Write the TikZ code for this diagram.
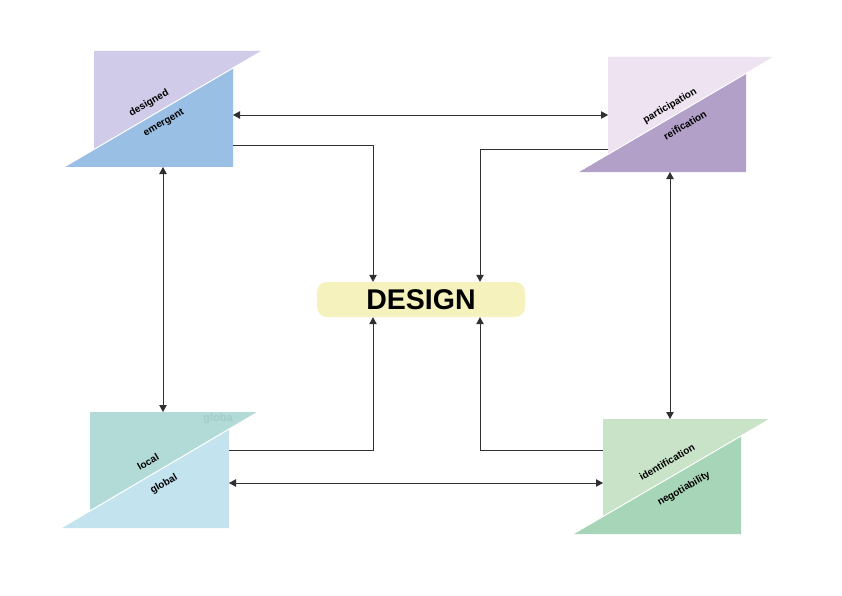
\documentclass[tikz,border=0pt]{standalone}
\usepackage{fontspec}
\setmainfont{Liberation Sans}
\usetikzlibrary{arrows.meta}
\definecolor{tlUp}{HTML}{CFCBE8}
\definecolor{tlLo}{HTML}{9ABFE4}
\definecolor{trUp}{HTML}{EDE3F1}
\definecolor{trLo}{HTML}{B2A0C8}
\definecolor{blUp}{HTML}{B2DAD6}
\definecolor{blLo}{HTML}{C3E3EE}
\definecolor{brUp}{HTML}{C9E3C8}
\definecolor{brLo}{HTML}{A7D5B8}
\definecolor{designFill}{HTML}{F5F2BE}
\definecolor{faint}{HTML}{A2CBC9}
\definecolor{lineCol}{HTML}{303030}
\tikzset{
  lbl/.style={font=\fontsize{10}{11}\selectfont\bfseries, rotate=30, inner sep=0pt},
  conn/.style={draw=lineCol, line width=0.8pt, -{Triangle[length=7pt,width=7.5pt]}},
  dbl/.style={draw=lineCol, line width=0.8pt, {Triangle[length=7pt,width=7.5pt]}-{Triangle[length=7pt,width=7.5pt]}},
  centre/.style={fill=designFill, rounded corners=10pt, minimum width=208pt, minimum height=35pt, inner sep=0pt, font=\fontsize{28.5}{30}\selectfont\bfseries}
}
\begin{document}
\begin{tikzpicture}[x=1pt,y=-1pt]
\fill[white] (0,0) rectangle (842,596);
\useasboundingbox (0,0) rectangle (842,596);
% top-left
\fill[tlUp] (94,51) -- (262,51) -- (94,149.4) -- cycle;
\fill[tlLo] (64,167) -- (233,167) -- (233,68) -- cycle;
\draw[white, line width=1pt] (64,167) -- (262,51);
\node[lbl] (designed) at (149,103) {designed};
\node[lbl] (emergent) at (164,123) {emergent};
% top-right
\fill[trUp] (608,57) -- (774,57) -- (608,154.5) -- cycle;
\fill[trLo] (578,172) -- (746,172) -- (746,73.5) -- cycle;
\draw[white, line width=1pt] (578,172) -- (774,57);
\node[lbl] (participation) at (670,106) {participation};
\node[lbl] (reification) at (685,125) {reification};
% bottom-left
\fill[blUp] (90,412) -- (258,412) -- (90,510.5) -- cycle;
\fill[blLo] (61,528) -- (229,528) -- (229,429.5) -- cycle;
\draw[white, line width=1pt] (61,528) -- (258,412);
\node[font=\fontsize{11}{12}\selectfont\bfseries, text=faint, inner sep=0pt] (globa) at (218,419) {globa};
\node[lbl] (local) at (148,462) {local};
\node[lbl] (global) at (164,484) {global};
% bottom-right
\fill[brUp] (603,419) -- (770,419) -- (603,516.5) -- cycle;
\fill[brLo] (573,534) -- (741,534) -- (741,436) -- cycle;
\draw[white, line width=1pt] (573,534) -- (770,419);
\node[lbl] (identification) at (667,462) {identification};
\node[lbl] (negotiability) at (684,489) {negotiability};
% centre
\node[centre] (design) at (421,299.5) {DESIGN};
% attachment points
\coordinate (tlR1) at (233,115);
\coordinate (tlR2) at (233,145.7);
\coordinate (tlB) at (163,167);
\coordinate (trL1) at (608,115);
\coordinate (trL2) at (608,149);
\coordinate (trB) at (670,172);
\coordinate (blT) at (163,412);
\coordinate (blR1) at (229,450.7);
\coordinate (blR2) at (229,483);
\coordinate (brT) at (670,419);
\coordinate (brL1) at (603,450.7);
\coordinate (brL2) at (603,483);
% connectors
\draw[dbl] (tlR1) -- (trL1);
\draw[dbl] (blR2) -- (brL2);
\draw[dbl] (tlB) -- (blT);
\draw[dbl] (trB) -- (brT);
\draw[conn] (tlR2) -| ([xshift=-48pt]design.north);
\draw[conn] (trL2) -| ([xshift=59pt]design.north);
\draw[conn] (blR1) -| ([xshift=-48pt]design.south);
\draw[conn] (brL1) -| ([xshift=59pt]design.south);
\end{tikzpicture}
\end{document}
